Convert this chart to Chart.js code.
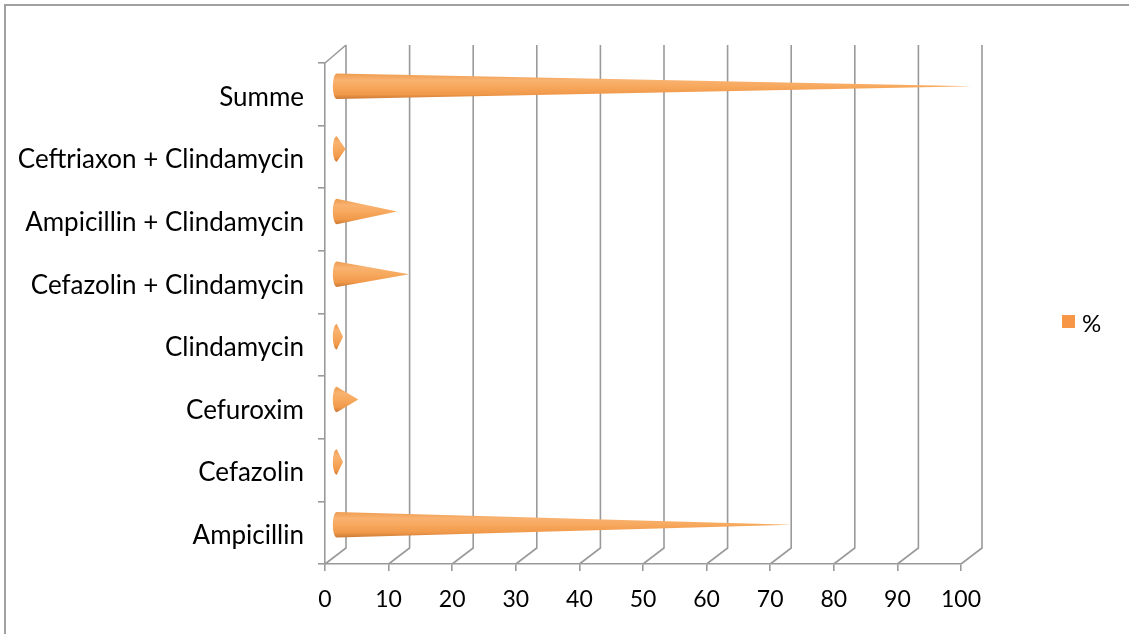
<!DOCTYPE html>
<html>
<head>
<meta charset="utf-8">
<script src="https://cdn.jsdelivr.net/npm/chart.js@4.4.1/dist/chart.umd.min.js"></script>
<style>
  html, body { margin: 0; padding: 0; background: #ffffff; }
  #wrap { width: 1129px; height: 634px; position: relative; }
</style>
</head>
<body>
<div id="wrap"><canvas id="c" width="1129" height="634"></canvas></div>
<script>
// ---- data ----
const categories = [
  'Ampicillin',
  'Cefazolin',
  'Cefuroxim',
  'Clindamycin',
  'Cefazolin + Clindamycin',
  'Ampicillin + Clindamycin',
  'Ceftriaxon + Clindamycin',
  'Summe'
];
const percentValues = [71.7, 1.1, 3.5, 1.1, 11.5, 9.6, 1.5, 100];
const seriesLabel = '%';
const xTickValues = [0, 10, 20, 30, 40, 50, 60, 70, 80, 90, 100];

// ---- style ----
const FONT = 'Lato, "Open Sans", "DejaVu Sans", sans-serif';
const GRID = '#9a9a9a';
const ORANGE = '#F79646';
const DEPTH_X = 21, DEPTH_Y = -16;   // back wall offset
const MID_X = 11, MID_Y = -8;        // cone offset (mid depth)
const CONE_R = 12.8;

const threeD = {
  id: 'threeD',
  beforeDraw(chart) {
    const ctx = chart.ctx;
    ctx.save();
    ctx.fillStyle = '#fff';
    ctx.fillRect(0, 0, chart.width, chart.height);
    ctx.strokeStyle = '#a0a0a0';
    ctx.lineWidth = 2;
    ctx.strokeRect(5, 5, chart.width + 20, chart.height + 20);
    ctx.restore();
  },
  beforeDatasetsDraw(chart) {
    const ctx = chart.ctx;
    const xs = chart.scales.x;
    const a = chart.chartArea;
    ctx.save();
    ctx.strokeStyle = GRID;
    ctx.lineWidth = 1.6;
    xTickValues.forEach(v => {
      const px = xs.getPixelForValue(v);
      ctx.beginPath();
      ctx.moveTo(px, a.bottom);
      ctx.lineTo(px + DEPTH_X, a.bottom + DEPTH_Y);
      ctx.lineTo(px + DEPTH_X, a.top - 18);
      ctx.stroke();
    });
    ctx.beginPath();
    ctx.moveTo(a.left, a.top);
    ctx.lineTo(a.left + DEPTH_X, a.top - 18);
    ctx.stroke();
    ctx.restore();
  },
  afterDatasetsDraw(chart) {
    const ctx = chart.ctx;
    const meta = chart.getDatasetMeta(0);
    ctx.save();
    meta.data.forEach(bar => {
      const x0 = bar.base + MID_X;
      const x1 = bar.x + MID_X;
      const cy = bar.y + MID_Y;
      const r = CONE_R;
      const rx = 4;
      const g = ctx.createLinearGradient(0, cy - r, 0, cy + r);
      g.addColorStop(0, '#EE9C50');
      g.addColorStop(0.25, '#F9B270');
      g.addColorStop(0.5, '#F7A95E');
      g.addColorStop(0.82, '#F0984A');
      g.addColorStop(1, '#C97833');
      ctx.beginPath();
      ctx.moveTo(x0, cy - r);
      ctx.lineTo(x1, cy);
      ctx.lineTo(x0, cy + r);
      ctx.ellipse(x0, cy, rx, r, 0, Math.PI / 2, Math.PI * 1.5, false);
      ctx.closePath();
      ctx.fillStyle = g;
      ctx.fill();
    });
    ctx.restore();
  },
  afterDraw(chart) {
    const ctx = chart.ctx;
    ctx.save();
    ctx.fillStyle = ORANGE;
    ctx.fillRect(1062, 315, 13, 13);
    ctx.fillStyle = '#000';
    ctx.font = '24px ' + FONT;
    ctx.textBaseline = 'middle';
    ctx.fillText(chart.data.datasets[0].label, 1082, 324);
    ctx.restore();
  }
};

new Chart(document.getElementById('c'), {
  type: 'bar',
  data: {
    labels: categories,
    datasets: [{
      label: seriesLabel,
      data: percentValues,
      backgroundColor: 'rgba(0,0,0,0)',
      borderWidth: 0
    }]
  },
  options: {
    indexAxis: 'y',
    responsive: false,
    animation: false,
    devicePixelRatio: 1,
    layout: { padding: { left: 0, right: 168, top: 63, bottom: 0 } },
    plugins: { legend: { display: false }, tooltip: { enabled: false } },
    scales: {
      x: {
        type: 'linear', min: 0, max: 100,
        afterFit(s) { s.height = 70; },
        ticks: { stepSize: 10, color: '#000', font: { family: FONT, size: 23 }, padding: 15 },
        grid: { drawOnChartArea: false, drawTicks: true, tickLength: 7, color: GRID, lineWidth: 1.6 },
        border: { display: true, color: GRID, width: 1.6 }
      },
      y: {
        type: 'category', reverse: true, offset: true,
        afterFit(s) { s.width = 325; },
        ticks: { color: '#000', font: { family: FONT, size: 26 }, padding: 14, labelOffset: 3 },
        grid: { offset: true, drawOnChartArea: false, drawTicks: true, tickLength: 7, color: GRID, lineWidth: 1.6 },
        border: { display: true, color: GRID, width: 1.6 }
      }
    }
  },
  plugins: [threeD]
});
</script>
</body>
</html>
